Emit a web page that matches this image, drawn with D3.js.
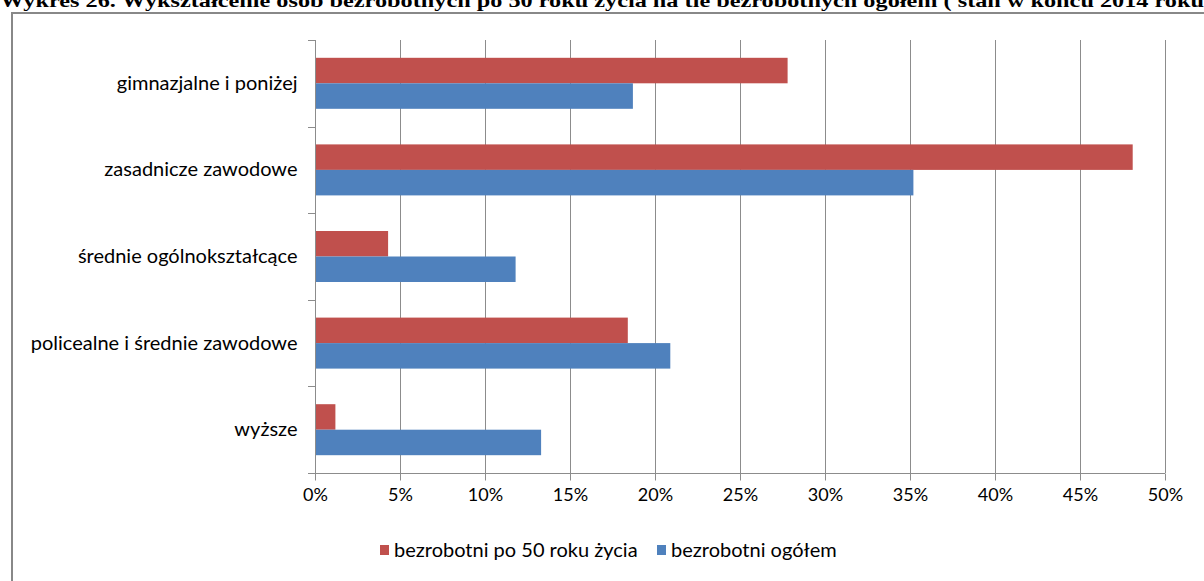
<!DOCTYPE html>
<html>
<head>
<meta charset="utf-8">
<script src="https://cdnjs.cloudflare.com/ajax/libs/d3/7.8.5/d3.min.js"></script>
<style>
  body { margin: 0; background: #fff; }
  svg { display: block; }
  .tick text { font-family: Lato, "Open Sans", sans-serif; fill: #000; }
</style>
</head>
<body>
<div id="chart"></div>
<script>
// Categories and series values (percent)
var categories = ["gimnazjalne i poniżej", "zasadnicze zawodowe", "średnie ogólnokształcące", "policealne i średnie zawodowe", "wyższe"];
var seriesNames = ["bezrobotni po 50 roku życia", "bezrobotni ogółem"];
var over50 = [27.8, 48.1, 4.3, 18.4, 1.2];
var total = [18.7, 35.2, 11.8, 20.9, 13.3];
var xTicks = [0, 5, 10, 15, 20, 25, 30, 35, 40, 45, 50];
var colors = ["#c0504d", "#4f81bd"];

var svgWidth = 1204;
var svgHeight = 581;

var margin = { top: 40, left: 315, right: 39, bottom: 108 };
var width = svgWidth - margin.left - margin.right;
var height = svgHeight - margin.top - margin.bottom;

var svg = d3.select("#chart")
  .append("svg")
  .attr("width", svgWidth)
  .attr("height", svgHeight);

// Title (cut at the top, as in the source document)
svg.append("text")
  .attr("x", 0)
  .attr("y", 7)
  .attr("textLength", 1204)
  .attr("lengthAdjust", "spacingAndGlyphs")
  .style("font-family", "'Liberation Serif', 'Times New Roman', serif")
  .style("font-weight", "bold")
  .style("font-size", "18px")
  .text("Wykres 26. Wykształcenie osób bezrobotnych po 50 roku życia na tle bezrobotnych ogółem ( stan w końcu 2014 roku");

// Chart frame
svg.append("rect")
  .attr("x", 12)
  .attr("y", 13)
  .attr("width", 1220)
  .attr("height", 600)
  .attr("fill", "none")
  .attr("stroke", "#888")
  .attr("stroke-width", 2);

var chartGroup = svg.append("g")
  .attr("transform", `translate(${margin.left}, ${margin.top})`);

var xScale = d3.scaleLinear().domain([0, 50]).range([0, width]);
var yScale = d3.scaleBand().domain(categories).range([0, height]);

// Vertical gridlines
chartGroup.append("g")
  .selectAll("line")
  .data(xTicks.slice(1))
  .enter()
  .append("line")
  .attr("x1", d => xScale(d) + 0.5)
  .attr("x2", d => xScale(d) + 0.5)
  .attr("y1", 0)
  .attr("y2", height)
  .attr("stroke", "#8c8c8c")
  .attr("stroke-width", 1);

// Bars
var barH = 25.5;
var groupOffset = (yScale.bandwidth() - 2 * barH) / 2;
var seriesData = [over50, total];

seriesData.forEach(function(values, s) {
  chartGroup.append("g")
    .selectAll("rect")
    .data(values)
    .enter()
    .append("rect")
    .attr("x", 0)
    .attr("y", (d, i) => yScale(categories[i]) + groupOffset + s * barH)
    .attr("width", d => xScale(d))
    .attr("height", barH)
    .attr("fill", colors[s]);
});

// x axis
var bottomAxis = d3.axisBottom(xScale)
  .tickValues(xTicks)
  .tickFormat(d => d + "%")
  .tickSize(7)
  .tickPadding(8);

var xAxis = chartGroup.append("g")
  .attr("transform", `translate(0, ${height + 0.5})`)
  .call(bottomAxis);
xAxis.selectAll("path, line").attr("stroke", "#8c8c8c");
xAxis.select(".domain").attr("d", `M0,0H${width}`);
xAxis.selectAll("text").style("font-size", "18px");

// y axis
var leftAxis = d3.axisLeft(yScale).tickSize(0).tickPadding(18);
var yAxis = chartGroup.append("g")
  .attr("transform", "translate(0.5, 0)")
  .call(leftAxis);
yAxis.select(".domain").attr("d", `M0,0V${height}`).attr("stroke", "#8c8c8c");
yAxis.selectAll("text").style("font-size", "20px");

// y category boundary ticks
chartGroup.append("g")
  .selectAll("line")
  .data(d3.range(categories.length + 1))
  .enter()
  .append("line")
  .attr("x1", -7)
  .attr("x2", 0)
  .attr("y1", d => Math.round(d * yScale.step()) + 0.5)
  .attr("y2", d => Math.round(d * yScale.step()) + 0.5)
  .attr("stroke", "#8c8c8c");

// Legend
var legend = svg.append("g").attr("transform", "translate(380, 550)");
var legendX = [0, 277];
seriesNames.forEach(function(name, i) {
  var item = legend.append("g").attr("transform", `translate(${legendX[i]}, 0)`);
  item.append("rect")
    .attr("x", 0)
    .attr("y", -5)
    .attr("width", 9)
    .attr("height", 10)
    .attr("fill", colors[i]);
  item.append("text")
    .attr("x", 14)
    .attr("y", 0)
    .attr("dy", "0.35em")
    .style("font-family", "Lato, 'Open Sans', sans-serif")
    .style("font-size", "20px")
    .text(name);
});
</script>
</body>
</html>
